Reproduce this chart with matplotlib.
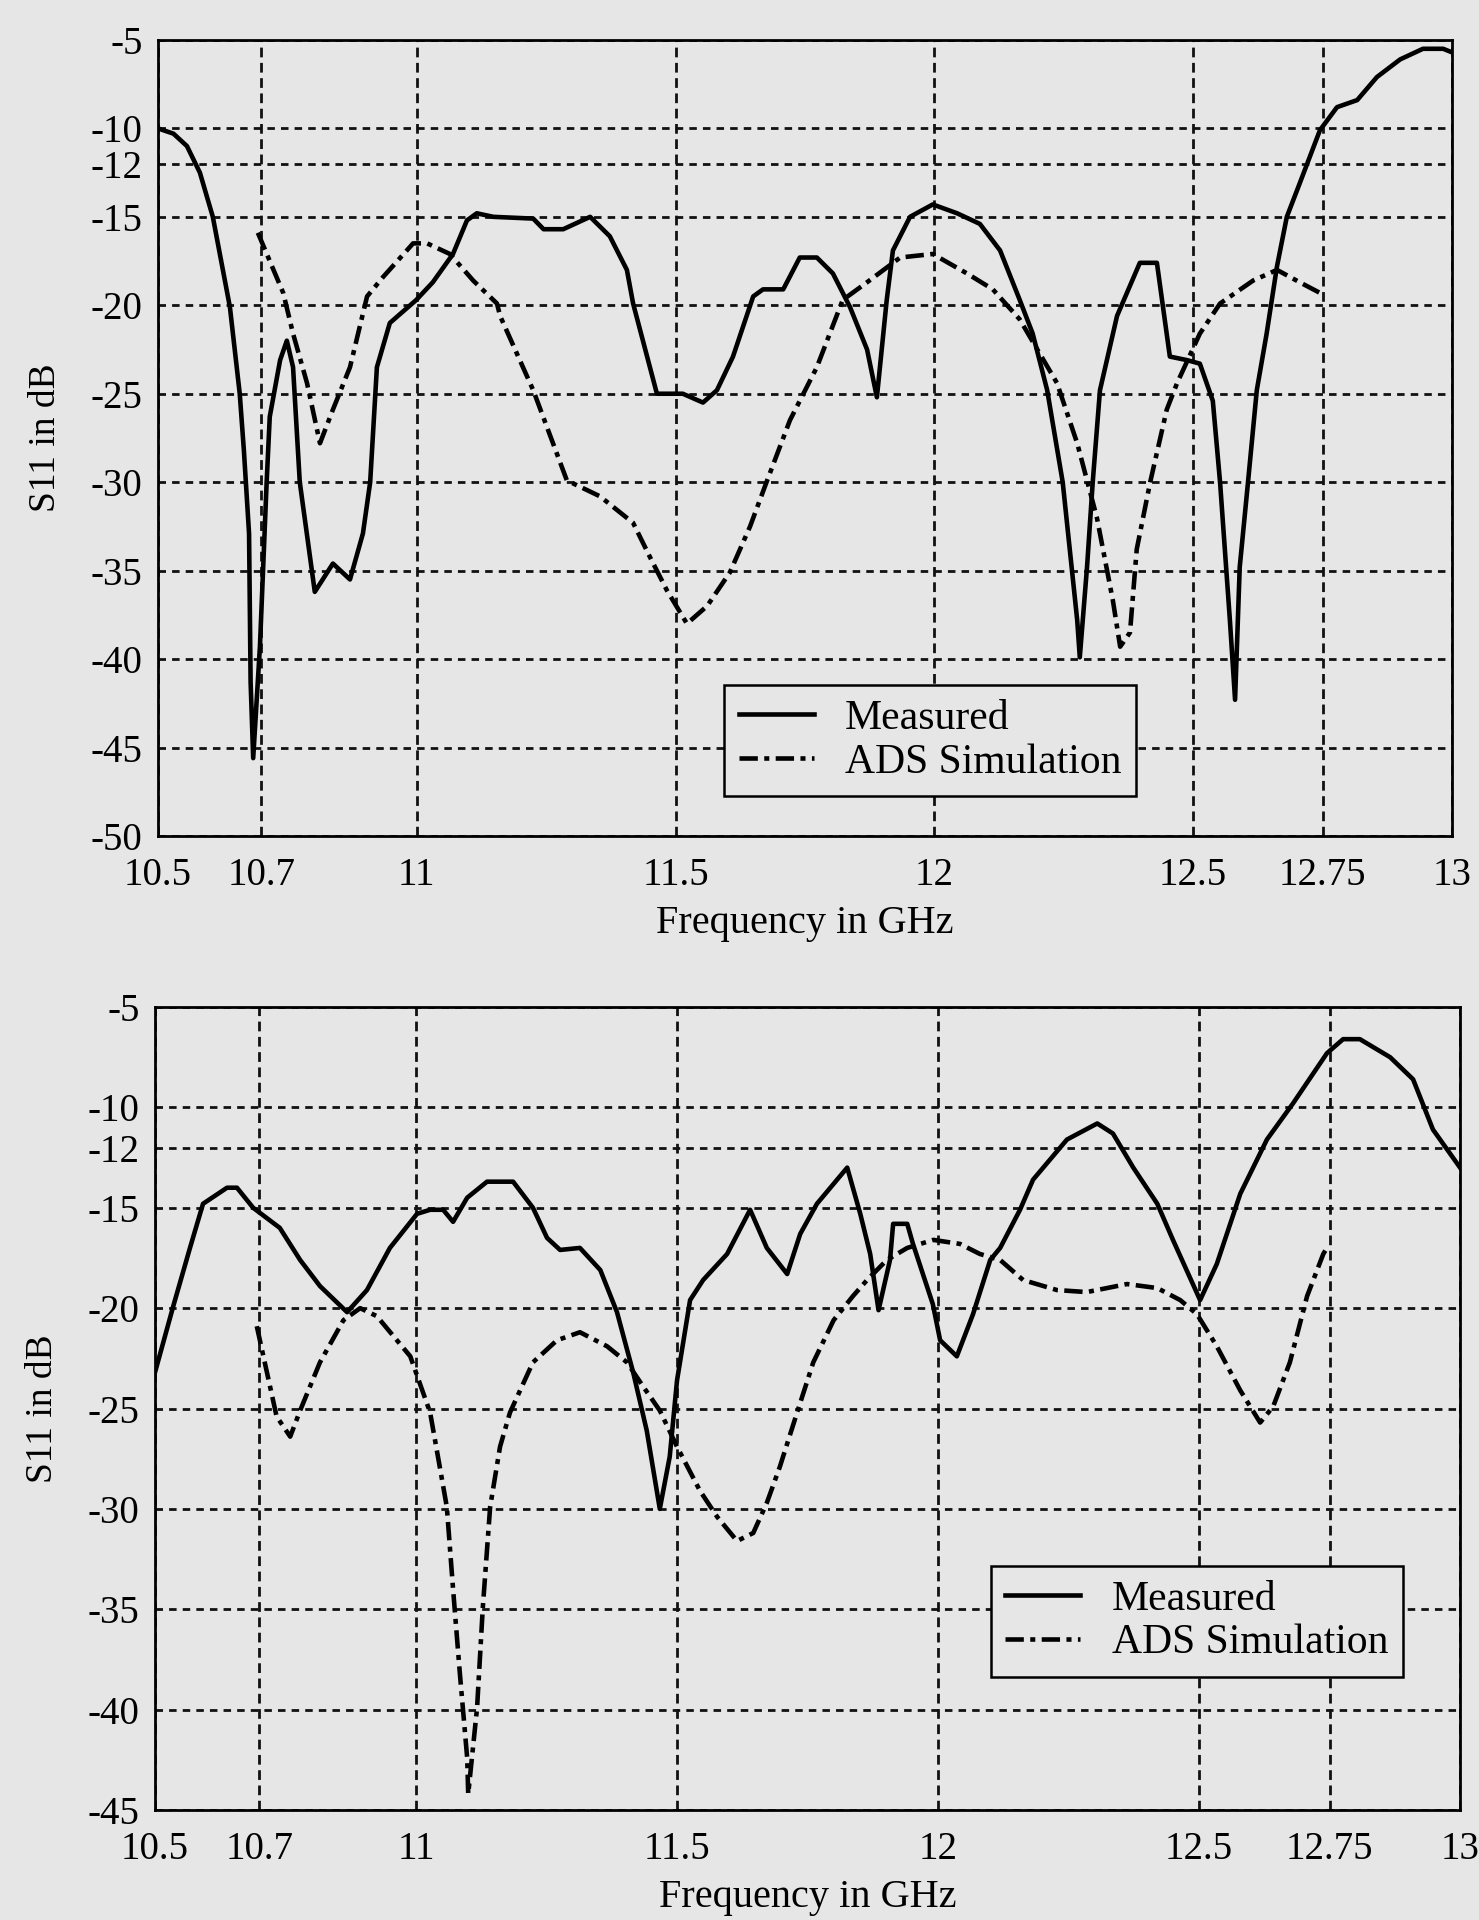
#!/usr/bin/env python3

import numpy as np
import matplotlib
matplotlib.use('Agg')
import matplotlib.pyplot as plt

# ---- top panel: measured vs ADS
top_meas_f = [10.5, 10.53, 10.556, 10.581, 10.606, 10.639, 10.658, 10.666, 10.676, 10.679, 10.684,
              10.697, 10.71, 10.716, 10.736, 10.749, 10.761, 10.774, 10.803, 10.838, 10.871,
              10.896, 10.91, 10.923, 10.948, 10.999, 11.031, 11.07, 11.097, 11.116, 11.148,
              11.225, 11.245, 11.283, 11.335, 11.373, 11.406, 11.418, 11.464, 11.514, 11.553,
              11.58, 11.611, 11.65, 11.669, 11.708, 11.74, 11.773, 11.804, 11.837, 11.87,
              11.889, 11.908, 11.92, 11.953, 11.997, 12.044, 12.088, 12.127, 12.165, 12.19,
              12.218, 12.248, 12.276, 12.281, 12.295, 12.306, 12.32, 12.353, 12.397, 12.43,
              12.455, 12.488, 12.513, 12.538, 12.552, 12.571, 12.581, 12.59, 12.606, 12.623,
              12.642, 12.662, 12.681, 12.706, 12.745, 12.778, 12.817, 12.855, 12.9, 12.944,
              12.983, 13.0]
top_meas_db = [-10.0, -10.3, -11.0, -12.5, -15.0, -20.1, -25.0, -28.2, -32.9, -41.3, -45.6,
               -39.3, -30.0, -26.3, -23.1, -22.0, -23.5, -30.0, -36.2, -34.6, -35.5,
               -32.9, -30.0, -23.5, -21.0, -19.7, -18.7, -17.1, -15.2, -14.8, -15.0,
               -15.1, -15.7, -15.7, -15.0, -16.1, -18.0, -19.9, -25.0, -25.0, -25.5,
               -24.8, -22.9, -19.5, -19.1, -19.1, -17.3, -17.3, -18.2, -20.1, -22.5,
               -25.2, -19.7, -16.9, -15.0, -14.3, -14.8, -15.4, -16.9, -19.7, -21.6,
               -24.8, -30.0, -37.8, -39.9, -34.8, -30.0, -24.8, -20.6, -17.6, -17.6,
               -22.9, -23.1, -23.3, -25.4, -30.0, -37.8, -42.3, -34.8, -30.0, -24.8,
               -21.6, -17.8, -15.0, -13.1, -10.1, -8.8, -8.4, -7.1, -6.1, -5.5,
               -5.5, -5.7]

top_ads_f = [10.693, 10.742, 10.761, 10.788, 10.813, 10.838, 10.871, 10.904, 10.935, 10.993,
             11.02, 11.064, 11.109, 11.155, 11.161, 11.225, 11.29, 11.354, 11.418, 11.45,
             11.483, 11.522, 11.561, 11.605, 11.644, 11.677, 11.721, 11.773, 11.823, 11.87,
             11.934, 11.997, 12.063, 12.113, 12.165, 12.237, 12.276, 12.314, 12.345, 12.359,
             12.378, 12.391, 12.417, 12.449, 12.469, 12.513, 12.552, 12.616, 12.662, 12.706,
             12.745]
top_ads_db = [-15.9, -19.3, -21.6, -24.4, -27.8, -25.9, -23.5, -19.5, -18.4, -16.5,
              -16.5, -17.1, -18.6, -19.9, -20.6, -24.8, -29.9, -30.8, -32.3, -34.2,
              -36.1, -38.0, -37.0, -35.1, -32.5, -29.9, -26.5, -23.5, -19.7, -18.7,
              -17.3, -17.1, -18.2, -19.1, -20.8, -24.4, -27.8, -32.0, -36.7, -39.3,
              -38.5, -33.8, -30.0, -25.9, -24.4, -21.6, -19.9, -18.6, -18.0, -18.7,
              -19.3]

# ---- bottom panel
bot_meas_f = [10.5, 10.535, 10.567, 10.592, 10.638, 10.657, 10.688, 10.739, 10.778, 10.816,
              10.868, 10.906, 10.95, 11.002, 11.027, 11.052, 11.071, 11.098, 11.136, 11.186,
              11.224, 11.251, 11.276, 11.314, 11.353, 11.385, 11.416, 11.442, 11.467, 11.486,
              11.5, 11.525, 11.55, 11.596, 11.64, 11.672, 11.711, 11.736, 11.768, 11.826,
              11.851, 11.87, 11.886, 11.908, 11.914, 11.941, 11.952, 11.99, 12.004, 12.036,
              12.067, 12.1, 12.119, 12.157, 12.182, 12.247, 12.305, 12.335, 12.374, 12.42,
              12.45, 12.502, 12.534, 12.579, 12.63, 12.68, 12.745, 12.776, 12.808, 12.866,
              12.91, 12.948, 13.0]
bot_meas_db = [-23.2, -19.9, -17.0, -14.8, -14.0, -14.0, -15.0, -16.0, -17.6, -18.9,
               -20.2, -19.1, -17.0, -15.3, -15.1, -15.1, -15.7, -14.5, -13.7, -13.7,
               -15.0, -16.5, -17.1, -17.0, -18.1, -20.2, -23.2, -26.1, -30.0, -27.4,
               -23.6, -19.6, -18.6, -17.3, -15.1, -17.0, -18.3, -16.3, -14.8, -13.0,
               -15.3, -17.3, -20.1, -17.6, -15.8, -15.8, -16.8, -19.8, -21.6, -22.4,
               -20.3, -17.6, -17.0, -15.1, -13.6, -11.6, -10.8, -11.3, -13.0, -14.8,
               -16.6, -19.6, -17.8, -14.3, -11.6, -9.8, -7.3, -6.6, -6.6, -7.5,
               -8.6, -11.1, -13.0]

bot_ads_f = [10.695, 10.733, 10.759, 10.778, 10.816, 10.861, 10.893, 10.925, 10.989, 11.027,
             11.04, 11.059, 11.071, 11.084, 11.098, 11.1, 11.117, 11.128, 11.142, 11.161,
             11.18, 11.224, 11.27, 11.314, 11.366, 11.404, 11.435, 11.467, 11.5, 11.544,
             11.577, 11.615, 11.646, 11.672, 11.697, 11.73, 11.761, 11.8, 11.837, 11.864,
             11.902, 11.941, 11.991, 12.042, 12.08, 12.119, 12.163, 12.228, 12.285, 12.362,
             12.42, 12.464, 12.496, 12.534, 12.579, 12.617, 12.642, 12.674, 12.707, 12.738,
             12.745]
bot_ads_db = [-20.9, -25.4, -26.4, -25.1, -22.7, -20.6, -20.0, -20.4, -22.4, -25.2,
              -27.1, -29.9, -34.0, -38.2, -42.4, -44.2, -39.9, -34.9, -29.9, -26.9,
              -25.2, -22.7, -21.6, -21.2, -21.9, -22.7, -23.9, -25.1, -26.9, -29.1,
              -30.4, -31.6, -31.2, -29.7, -27.9, -25.2, -22.7, -20.6, -19.4, -18.6,
              -17.6, -17.0, -16.6, -16.8, -17.3, -17.6, -18.6, -19.1, -19.2, -18.8,
              -19.0, -19.6, -20.3, -21.9, -24.1, -25.7, -24.9, -22.7, -19.4, -17.3,
              -17.0]

xticks = [10.5, 10.7, 11, 11.5, 12, 12.5, 12.75, 13]
xtick_labels = ['10.5', '10.7', '11', '11.5', '12', '12.5', '12.75', '13']
top_yticks = [-5, -10, -12, -15, -20, -25, -30, -35, -40, -45, -50]
bot_yticks = [-5, -10, -12, -15, -20, -25, -30, -35, -40, -45]

bg = '#e6e6e6'
plt.rcParams['font.family'] = ['Liberation Serif', 'DejaVu Serif']
plt.rcParams['font.size'] = 28

fig = plt.figure(figsize=(14.79, 19.20), dpi=100, facecolor=bg)
ax1 = fig.add_axes([0.1068, 0.5646, 0.8749, 0.4146])
ax2 = fig.add_axes([0.1048, 0.0573, 0.8824, 0.4182])


def setup(ax, meas_f, meas_db, ads_f, ads_db, yticks, ylim, leg_anchor):
    ax.set_facecolor(bg)
    ax.plot(meas_f, meas_db, color='black', lw=3.3, label='Measured', zorder=3)
    ax.plot(ads_f, ads_db, color='black', lw=3.3, linestyle=(0, (4.0, 1.4, 1.1, 1.4)),
            label='ADS Simulation', zorder=3)
    ax.set_xlim(10.5, 13)
    ax.set_ylim(*ylim)
    ax.set_xticks(xticks)
    ax.set_xticklabels(xtick_labels)
    ax.set_yticks(yticks)
    ax.set_yticklabels([str(v) for v in yticks])
    ax.tick_params(axis='both', length=0, labelsize=28)
    ax.tick_params(axis='x', pad=15)
    ax.tick_params(axis='y', pad=11)
    ax.xaxis.grid(True, color='#111111', lw=2.0, linestyle=(0, (3.5, 2.0)))
    ax.yaxis.grid(True, color='#111111', lw=2.0, linestyle=(0, (2.7, 2.2)))
    ax.set_axisbelow(True)
    for s in ax.spines.values():
        s.set_linewidth(2.0)
        s.set_color('black')
    ax.set_xlabel('Frequency in GHz', fontsize=29, labelpad=8)
    ax.set_ylabel('S11 in dB', fontsize=27, labelpad=20)
    leg = ax.legend(loc='lower right', bbox_to_anchor=leg_anchor, fontsize=30,
                    frameon=True, fancybox=False, framealpha=1, facecolor=bg,
                    edgecolor='black', borderaxespad=0, handlelength=1.8,
                    handletextpad=0.75, borderpad=0.35, labelspacing=0.12)
    leg.get_frame().set_linewidth(1.8)
    leg.set_zorder(5)


setup(ax1, top_meas_f, top_meas_db, top_ads_f, top_ads_db, top_yticks, (-50, -5), (0.756, 0.050))
setup(ax2, bot_meas_f, bot_meas_db, bot_ads_f, bot_ads_db, bot_yticks, (-45, -5), (0.956, 0.166))

plt.savefig('out.png', dpi=100, facecolor=bg)
